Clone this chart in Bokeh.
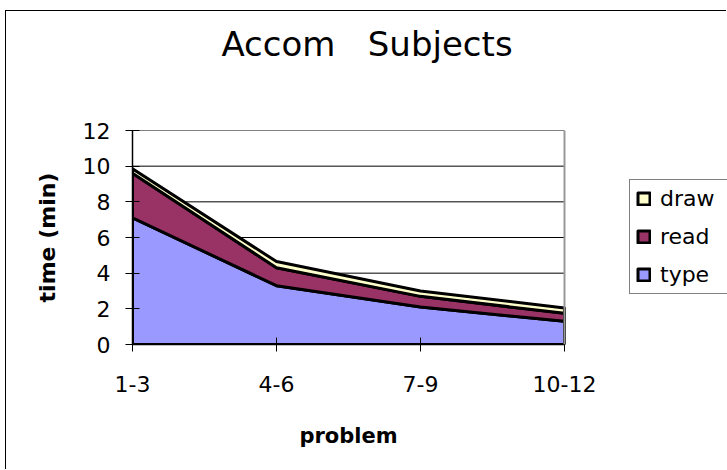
import numpy as np
from bokeh.plotting import figure
from bokeh.models import Legend, LegendItem, FixedTicker, Span, LinearAxis
from bokeh.embed import file_html
from bokeh.resources import INLINE

# Minutes spent per problem group, stacked: type, read, draw
problems = ["1-3", "4-6", "7-9", "10-12"]
type_min = [7.1, 3.3, 2.1, 1.3]
read_min = [2.5, 1.0, 0.6, 0.45]
draw_min = [0.25, 0.35, 0.3, 0.3]
y_ticks = [0, 2, 4, 6, 8, 10, 12]

TITLE = "Accom\u00a0\u00a0\u00a0Subjects"
X_TITLE = "problem"
Y_TITLE = "time (min)"

FONT = "DejaVu Sans"
x = list(range(len(problems)))

# canvas / plot-area geometry (pixels)
CANVAS_W, CANVAS_H = 721, 459
LEFT, TOP, BOTTOM = 126, 119, 126
AREA_W = 432                      # width of the category span
frame_w = CANVAS_W - LEFT         # frame runs to the right edge so the legend fits inside it
px_per_unit = AREA_W / (len(problems) - 1)
x_end = frame_w / px_per_unit
title_x = (x[0] + x[-1]) / 2 + 18.5 / px_per_unit   # title sits slightly right of the plot centre

p = figure(width=CANVAS_W, height=CANVAS_H, output_backend="svg", toolbar_location=None,
           title=None, x_range=(0, x_end), y_range=(0, 12),
           min_border_left=LEFT, min_border_right=0,
           min_border_top=TOP, min_border_bottom=BOTTOM,
           background_fill_color="white", border_fill_color="white",
           styles={"margin-left": "5px", "margin-top": "10px",
                   "border-left": "1px solid #000000",
                   "border-top": "1px solid #000000"})
p.outline_line_color = None
p.xgrid.visible = False
p.ygrid.visible = False

# horizontal gridlines across the category span only
p.segment(x0=0, x1=x[-1], y0=y_ticks[1:], y1=y_ticks[1:],
          line_color="black", line_width=1, level="underlay")
# plot-area right edge
p.add_layout(Span(location=x[-1], dimension="height",
                  line_color="#999999", line_width=2))

# stacked layers drawn as outlined polygons
zero = np.zeros(len(x))
t1 = np.array(type_min)
t2 = t1 + np.array(read_min)
t3 = t2 + np.array(draw_min)
layers = [("type", zero, t1, "#9999FF"),
          ("read", t1, t2, "#993366"),
          ("draw", t2, t3, "#FFFFCC")]
renderers = {}
for name, lo, hi, color in layers:
    xs = x + x[::-1]
    ys = list(hi) + list(lo[::-1])
    renderers[name] = p.patch(xs, ys, fill_color=color, line_color="black",
                              line_width=3, line_join="round")

# axes
p.xaxis.ticker = FixedTicker(ticks=x)
p.xaxis.bounds = (0, x[-1])
p.xaxis.major_label_overrides = {i: s for i, s in zip(x, problems)}
p.yaxis.ticker = FixedTicker(ticks=y_ticks)
for ax in (p.xaxis[0], p.yaxis[0]):
    ax.axis_line_color = "black"
    ax.axis_line_width = 1.5
    ax.major_tick_line_color = "black"
    ax.major_tick_line_width = 1
    ax.major_tick_in = 7
    ax.major_tick_out = 7
    ax.minor_tick_line_color = None
    ax.major_label_text_font = FONT
    ax.major_label_text_font_size = "22px"
    ax.major_label_text_color = "black"
    ax.axis_label_text_font = FONT
    ax.axis_label_text_font_style = "bold"
    ax.axis_label_text_color = "black"

p.xaxis.major_label_standoff = 24
p.yaxis.major_label_standoff = 15
p.yaxis.axis_label = Y_TITLE
p.yaxis.axis_label_text_font_size = "22px"
p.yaxis.axis_label_standoff = 20


def text_axis(pos, label, size, style, standoff):
    """Axis without line or ticks that carries a single text at `pos`."""
    ax = LinearAxis(ticker=FixedTicker(ticks=[pos]),
                    major_label_overrides={pos: label},
                    axis_line_color=None, major_tick_line_color=None,
                    minor_tick_line_color=None, major_tick_in=0, major_tick_out=0,
                    major_label_standoff=standoff,
                    major_label_text_font=FONT, major_label_text_font_size=size,
                    major_label_text_font_style=style, major_label_text_color="black")
    return ax


# x-axis title centred under the category span
p.add_layout(text_axis((x[0] + x[-1]) / 2, X_TITLE, "21px", "bold", 29), "below")
# chart title
p.add_layout(text_axis(title_x, TITLE, "34px", "normal", 67), "above")

# legend at the right of the plot area
legend = Legend(items=[LegendItem(label=n, renderers=[renderers[n]])
                       for n in ("draw", "read", "type")],
                location=(497, 50), margin=0, padding=6, spacing=13,
                glyph_width=15, glyph_height=15, label_standoff=9,
                label_width=100, label_text_font=FONT,
                label_text_font_size="22px", label_text_color="black",
                border_line_color="black", border_line_width=1,
                background_fill_color="white", background_fill_alpha=1)
p.add_layout(legend)

open("out.html", "w").write(file_html(p, INLINE))
